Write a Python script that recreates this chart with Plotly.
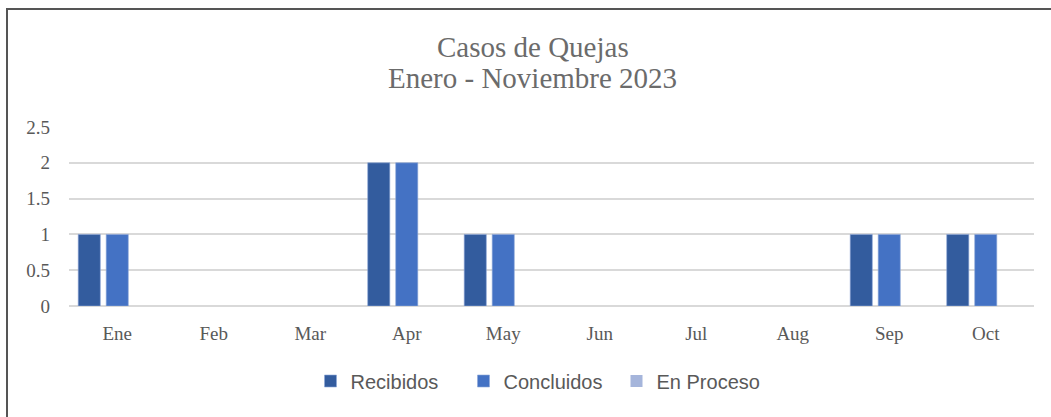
import plotly.graph_objects as go

months = ["Ene", "Feb", "Mar", "Apr", "May", "Jun", "Jul", "Aug", "Sep", "Oct"]
recibidos = [1, 0, 0, 2, 1, 0, 0, 0, 1, 1]
concluidos = [1, 0, 0, 2, 1, 0, 0, 0, 1, 1]
en_proceso = [0, 0, 0, 0, 0, 0, 0, 0, 0, 0]
y_ticks = [0, 0.5, 1, 1.5, 2, 2.5]
y_labels = ["0", "0.5", "1", "1.5", "2", "2.5"]
title_lines = ["Casos de Quejas", "Enero - Noviembre 2023"]

series = [
    ("Recibidos", recibidos, "#335C9E"),
    ("Concluidos", concluidos, "#4472C4"),
    ("En Proceso", en_proceso, "#A5B5DB"),
]

fig = go.Figure()
for name, vals, col in series:
    fig.add_trace(go.Bar(x=months, y=vals, name=name,
                         marker=dict(color=col,
                                     line=dict(color="#8FA8D8",
                                               width=[0.6 if v else 0 for v in vals]))))

L, R, T, B = 69, 17, 127, 111
W, H = 1051, 417
pw, ph = W - L - R, H - T - B

def px(x):
    return (x - L) / pw

def py(y):
    return (H - B - y) / ph

annotations = [
    dict(text=title_lines[0], x=px(533), y=py(47), xref="paper", yref="paper",
         xanchor="center", yanchor="middle", showarrow=False,
         font=dict(family="Liberation Serif", size=29, color="#6B6B6B")),
    dict(text=title_lines[1], x=px(532), y=py(78), xref="paper", yref="paper",
         xanchor="center", yanchor="middle", showarrow=False,
         font=dict(family="Liberation Serif", size=29, color="#6B6B6B")),
]

fig.update_layout(
    width=W, height=H,
    margin=dict(l=L, r=R, t=T, b=B),
    paper_bgcolor="white", plot_bgcolor="white",
    barmode="group", bargap=0.13, bargroupgap=0.21,
    annotations=annotations,
    font=dict(family="Liberation Serif", color="#595959"),
    showlegend=True,
    legend=dict(orientation="h", x=px(540), xanchor="center", y=py(381), yanchor="middle",
                font=dict(family="Liberation Sans", size=20, color="#595959"),
                itemwidth=30, traceorder="normal", entrywidth=108, entrywidthmode="pixels"),
    xaxis=dict(showgrid=False, showline=False, ticks="",
               tickfont=dict(family="Liberation Serif", size=19, color="#595959"),
               ticklabelstandoff=14),
    yaxis=dict(range=[0, 2.5], tickvals=y_ticks, ticktext=y_labels,
               showgrid=True, gridcolor="#D9D9D9", gridwidth=1.5,
               zeroline=True, zerolinecolor="#D9D9D9", zerolinewidth=1.5,
               showline=False, ticks="",
               tickfont=dict(family="Liberation Serif", size=19, color="#595959"),
               ticklabelstandoff=18),
    shapes=[dict(type="rect", xref="paper", yref="paper",
                 x0=px(7), x1=px(W + 5), y0=py(H + 5), y1=py(9),
                 line=dict(color="#555555", width=2), fillcolor="rgba(0,0,0,0)",
                 layer="below")],
)

fig.write_html("out.html", config={"displayModeBar": False},
               post_script="document.body.style.margin='0px';")
